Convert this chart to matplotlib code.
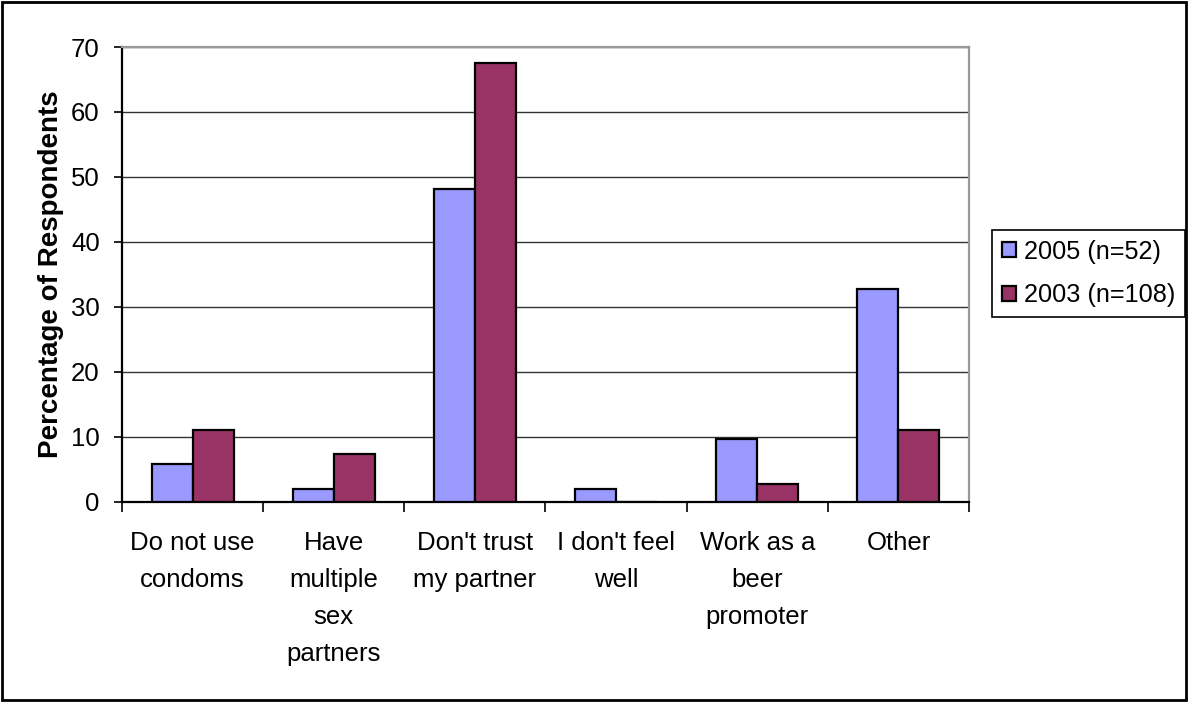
import matplotlib
matplotlib.use("Agg")
import matplotlib.pyplot as plt
import numpy as np
from matplotlib.patches import Rectangle

plt.rcParams['font.family'] = ['Liberation Sans', 'DejaVu Sans']

# survey answers, percentage of respondents
categories = ["Do not use\ncondoms", "Have\nmultiple\nsex\npartners", "Don't trust\nmy partner",
              "I don't feel\nwell", "Work as a\nbeer\npromoter", "Other"]
pct_2005 = [5.8, 1.9, 48.1, 1.9, 9.6, 32.7]
pct_2003 = [11.1, 7.4, 67.6, 0.0, 2.8, 11.1]
labels = ["2005 (n=52)", "2003 (n=108)"]
yticks = [0, 10, 20, 30, 40, 50, 60, 70]

fig = plt.figure(figsize=(11.9, 7.02), dpi=100)
ax = fig.add_axes([0.1025, 0.2853, 0.7118, 0.6477])

x = np.arange(len(categories))
w = 0.29
ax.bar(x - w / 2, pct_2005, w, color="#9999FF", edgecolor="black", linewidth=1.6, label=labels[0], zorder=3)
ax.bar(x + w / 2, pct_2003, w, color="#993366", edgecolor="black", linewidth=1.6, label=labels[1], zorder=3)

ax.set_xlim(-0.5, len(categories) - 0.5)
ax.set_ylim(0, 70)
ax.set_yticks(yticks)
ax.tick_params(axis='y', labelsize=18.5, length=6, width=1.2, pad=10, direction='out')
ax.yaxis.grid(True, color="#333333", linewidth=1.0, zorder=0)

# category boundaries get the tick marks, names sit in between
ax.set_xticks(np.arange(len(categories) + 1) - 0.5)
ax.set_xticklabels([])
ax.set_xticks(x, minor=True)
ax.set_xticklabels(categories, minor=True, fontsize=18.5, linespacing=1.68)
ax.tick_params(axis='x', which='major', length=7, width=1.2, direction='out')
ax.tick_params(axis='x', which='minor', length=0, pad=21)

ax.spines['left'].set_linewidth(1.6)
ax.spines['bottom'].set_linewidth(1.6)
for s in ('top', 'right'):
    ax.spines[s].set_color("#999999")
    ax.spines[s].set_linewidth(1.6)

ax.set_ylabel("Percentage of Respondents", fontsize=20, fontweight='bold', labelpad=5)

leg = fig.legend(loc='center left', bbox_to_anchor=(0.8336, 0.6104), fontsize=18.2,
                 frameon=True, fancybox=False, edgecolor="black", framealpha=1,
                 borderaxespad=0, handlelength=0.55, handleheight=0.55,
                 handletextpad=0.3, labelspacing=0.78, borderpad=0.4)
leg.get_frame().set_linewidth(1.2)

fig.patches.append(Rectangle((0.002, 0.003), 0.995, 0.994, transform=fig.transFigure,
                             fill=False, edgecolor="black", linewidth=2))

fig.savefig("out.png", dpi=100)
